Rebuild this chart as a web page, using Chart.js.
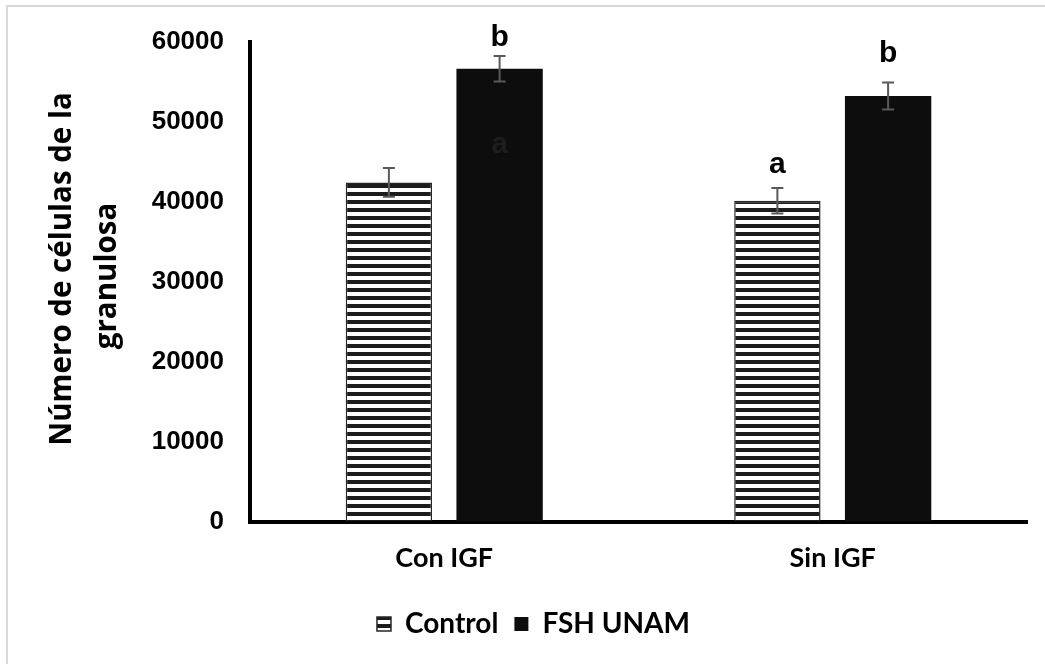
<!DOCTYPE html>
<html>
<head>
<meta charset="utf-8">
<script src="https://cdn.jsdelivr.net/npm/chart.js@4.4.1/dist/chart.umd.min.js"></script>
<style>
  html, body { margin: 0; padding: 0; background: #ffffff; }
  #wrap { position: relative; width: 1045px; height: 664px; overflow: hidden; background: #fff; }
  #frame { position: absolute; left: 6px; top: 5px; width: 1100px; height: 700px; border: 2px solid #d9d9d9; box-sizing: border-box; pointer-events: none; }
  canvas { position: absolute; left: 0; top: 0; }
</style>
</head>
<body>
<div id="wrap">
  <canvas id="c" width="1045" height="664"></canvas>
  <div id="frame"></div>
</div>
<script>
// ---- data ----
const categories = ['Con IGF', 'Sin IGF'];
const seriesNames = ['Control', 'FSH UNAM'];
const controlValues = [42400, 40100];
const fshValues = [56600, 53200];
const controlErrors = [1800, 1600];
const fshErrors = [1600, 1700];
const yTicks = [0, 10000, 20000, 30000, 40000, 50000, 60000];
const yTitleLines = ['Número de células de la', 'granulosa'];
// significance letters
const letterCats = [0, 0, 1, 1];
const letterSets = [1, 1, 0, 1];
const letterTexts = ['b', 'a', 'a', 'b'];
const letterValues = [60500, 47100, 44600, 58500];
const letterColors = ['#000000', '#1e1e1e', '#000000', '#000000'];

const LATO = 'Lato, "Open Sans", sans-serif';
const OPEN = '"Open Sans", Lato, sans-serif';
const ARIAL = '"Liberation Sans", Arial, sans-serif';

// ---- striped pattern ----
function stripePattern() {
  const p = document.createElement('canvas');
  p.width = 8; p.height = 8;
  const g = p.getContext('2d');
  g.fillStyle = '#ffffff'; g.fillRect(0, 0, 8, 8);
  g.fillStyle = '#1c1c1c'; g.fillRect(0, 0, 8, 4);
  return document.getElementById('c').getContext('2d').createPattern(p, 'repeat');
}
const stripes = stripePattern();

const extras = {
  id: 'extras',
  afterDatasetsDraw(chart) {
    const ctx = chart.ctx;
    const y = chart.scales.y;
    const errs = [controlErrors, fshErrors];
    chart.data.datasets.forEach((ds, i) => {
      const meta = chart.getDatasetMeta(i);
      meta.data.forEach((bar, j) => {
        const v = ds.data[j], e = errs[i][j];
        const yt = y.getPixelForValue(v + e), yb = y.getPixelForValue(v - e);
        ctx.save();
        ctx.strokeStyle = '#595959';
        ctx.lineWidth = 2;
        ctx.beginPath();
        ctx.moveTo(bar.x, yt); ctx.lineTo(bar.x, yb);
        ctx.moveTo(bar.x - 6, yt); ctx.lineTo(bar.x + 6, yt);
        ctx.moveTo(bar.x - 6, yb); ctx.lineTo(bar.x + 6, yb);
        ctx.stroke();
        ctx.restore();
      });
    });
    letterTexts.forEach((t, k) => {
      const bar = chart.getDatasetMeta(letterSets[k]).data[letterCats[k]];
      ctx.save();
      ctx.font = 'bold 30px ' + ARIAL;
      ctx.fillStyle = letterColors[k];
      ctx.textAlign = 'center';
      ctx.textBaseline = 'middle';
      ctx.fillText(t, bar.x, y.getPixelForValue(letterValues[k]));
      ctx.restore();
    });
  },
  afterDraw(chart) {
    // y-axis title (two rotated lines)
    const ctx = chart.ctx;
    const centersX = [63, 108];
    const centersY = [269, 276];
    ctx.save();
    ctx.font = 'bold 29.5px ' + OPEN;
    ctx.fillStyle = '#000';
    ctx.textAlign = 'center';
    ctx.textBaseline = 'middle';
    yTitleLines.forEach((line, i) => {
      ctx.save();
      ctx.translate(centersX[i], centersY[i]);
      ctx.rotate(-Math.PI / 2);
      ctx.fillText(line, 0, 0);
      ctx.restore();
    });
    ctx.restore();
  }
};

new Chart(document.getElementById('c'), {
  type: 'bar',
  data: {
    labels: categories,
    datasets: [
      { label: seriesNames[0], data: controlValues, backgroundColor: stripes, borderColor: '#262626', borderWidth: 1.5,
        categoryPercentage: 0.57, barPercentage: 0.78 },
      { label: seriesNames[1], data: fshValues, backgroundColor: '#0d0d0d', borderWidth: 0,
        categoryPercentage: 0.57, barPercentage: 0.78 }
    ]
  },
  options: {
    responsive: false,
    animation: false,
    layout: { padding: { left: 40, right: 18, top: 40, bottom: 16 } },
    plugins: {
      tooltip: { enabled: false },
      legend: {
        position: 'bottom',
        labels: {
          color: '#000',
          font: { family: LATO, size: 28, weight: 'bold' },
          boxWidth: 14, boxHeight: 14, padding: 16
        }
      }
    },
    scales: {
      x: {
        grid: { display: false, drawTicks: false },
        border: { display: true, color: '#000', width: 4 },
        ticks: { color: '#000', padding: 20, font: { family: LATO, size: 27, weight: 'bold' } }
      },
      y: {
        min: 0, max: 60000,
        afterBuildTicks: s => { s.ticks = yTicks.map(v => ({ value: v })); },
        afterFit: s => { s.width = 210; },
        grid: { display: false, drawTicks: false },
        border: { display: true, color: '#000', width: 4 },
        ticks: { color: '#000', padding: 26, callback: v => String(v), font: { family: ARIAL, size: 26, weight: 'bold' } }
      }
    }
  },
  plugins: [extras]
});
</script>
</body>
</html>
